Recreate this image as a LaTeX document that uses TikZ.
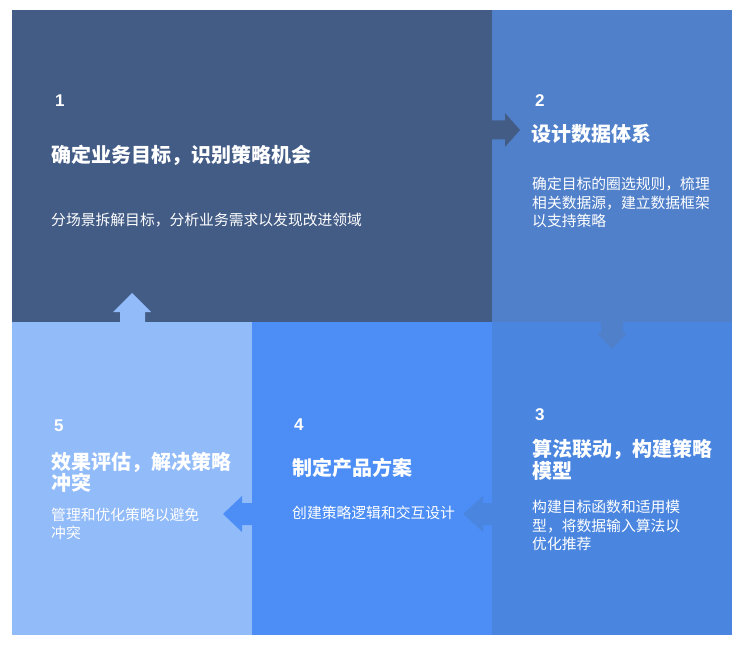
\documentclass[tikz,border=0pt]{standalone}
\usepackage{fontspec}
\setmainfont{Noto Sans CJK SC}
\newfontfamily\numfont{Liberation Sans}

\definecolor{stepone}{HTML}{435C86}
\definecolor{steptwo}{HTML}{5080CA}
\definecolor{stepthree}{HTML}{4A86E0}
\definecolor{stepfour}{HTML}{4C8EF6}
\definecolor{stepfive}{HTML}{92BBFA}

\tikzset{
  num/.style={anchor=base west, inner sep=0pt, text=white, font=\numfont\bfseries\fontsize{17}{17}\selectfont},
  headline/.style={anchor=base west, inner sep=0pt, text=white, font=\bfseries\fontsize{20}{22}\selectfont},
  bodyline/.style={anchor=base west, inner sep=0pt, text=white, font=\fontsize{14.8}{18.5}\selectfont}
}

\begin{document}
\begin{tikzpicture}[x=1pt,y=-1pt]
\useasboundingbox (0,0) rectangle (746,647);

% the five blocks
\fill[stepone] (12,10) rectangle (492,322);
\fill[steptwo] (492,10) rectangle (732,322);
\fill[stepfive] (12,322) rectangle (252,635);
\fill[stepfour] (252,322) rectangle (492,635);
\fill[stepthree] (492,322) rectangle (732,635);

% arrows between the blocks
\fill[stepone] (491,120.5) -- (505,120.5) -- (505,113) -- (520,130) -- (505,147) -- (505,139.5) -- (491,139.5) -- cycle;
\fill[steptwo] (601,321) -- (601,333) -- (597,333) -- (612,349) -- (627,333) -- (623,333) -- (623,321) -- cycle;
\fill[stepfour] (253,503) -- (242,503) -- (242,496) -- (223,514) -- (242,532) -- (242,525) -- (253,525) -- cycle;
\fill[stepthree] (493,503) -- (483,503) -- (483,496) -- (463,514) -- (483,532) -- (483,525) -- (493,525) -- cycle;
\fill[stepfive] (120,323) -- (120,312) -- (113,312) -- (132,293) -- (151,312) -- (145,312) -- (145,323) -- cycle;

% step 1
\node[num] (n1) at (55,107) {1};
\node[headline] (t1) at (51,162.6) {确定业务目标，识别策略机会};
\node[bodyline] (d1) at (51,225.7) {分场景拆解目标，分析业务需求以发现改进领域};

% step 2
\node[num] (n2) at (535,107) {2};
\node[headline] (t2) at (531,141.5) {设计数据体系};
\node[bodyline] (d2a) at (532,189.5) {确定目标的圈选规则，梳理};
\node[bodyline] (d2b) at (532,208) {相关数据源，建立数据框架};
\node[bodyline] (d2c) at (532,226.5) {以支持策略};

% step 3
\node[num] (n3) at (535,420) {3};
\node[headline] (t3a) at (532,456.6) {算法联动，构建策略};
\node[headline] (t3b) at (532,478.6) {模型};
\node[bodyline] (d3a) at (532,512.7) {构建目标函数和适用模};
\node[bodyline] (d3b) at (532,531) {型，将数据输入算法以};
\node[bodyline] (d3c) at (532,549.5) {优化推荐};

% step 4
\node[num] (n4) at (294,430) {4};
\node[headline] (t4) at (292,475.6) {制定产品方案};
\node[bodyline] (d4) at (292,518.7) {创建策略逻辑和交互设计};

% step 5
\node[num] (n5) at (54,431) {5};
\node[headline] (t5a) at (51,469.6) {效果评估，解决策略};
\node[headline] (t5b) at (51,490.6) {冲突};
\node[bodyline] (d5a) at (51,520.7) {管理和优化策略以避免};
\node[bodyline] (d5b) at (51,538.7) {冲突};
\end{tikzpicture}
\end{document}
